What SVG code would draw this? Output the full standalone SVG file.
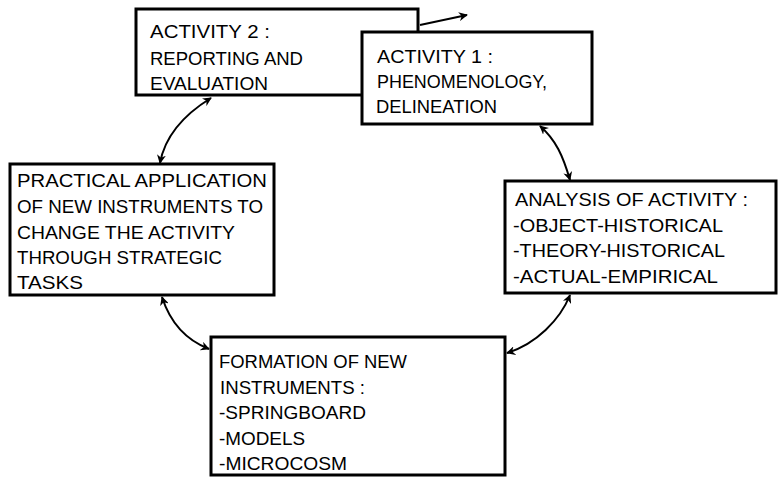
<svg xmlns="http://www.w3.org/2000/svg" width="778" height="477" viewBox="0 0 778 477">
<style>
  .box { fill: #fff; stroke: #000; stroke-width: 3; }
  .t { font-family: "Liberation Sans", "DejaVu Sans", sans-serif; font-size: 18px; fill: #000; }
  .c { fill: none; stroke: #000; stroke-width: 2; }
</style>
<defs>
  <marker id="ah" viewBox="0 0 10 10" refX="9" refY="5" markerWidth="9" markerHeight="9" markerUnits="userSpaceOnUse" orient="auto-start-reverse">
    <path d="M0,0 L10,5 L0,10 L3,5 Z" fill="#000"/>
  </marker>
</defs>
<rect width="778" height="477" fill="#fff"/>
<g id="activity2">
  <rect class="box" x="136" y="9" width="282" height="86"/>
  <text class="t" x="150" y="38" textLength="120" lengthAdjust="spacingAndGlyphs">ACTIVITY 2 :</text>
  <text class="t" x="150" y="65" textLength="153" lengthAdjust="spacingAndGlyphs">REPORTING AND</text>
  <text class="t" x="150" y="90" textLength="118" lengthAdjust="spacingAndGlyphs">EVALUATION</text>
</g>
<g id="activity1">
  <rect class="box" x="362" y="32" width="230" height="92"/>
  <text class="t" x="377" y="63" textLength="116" lengthAdjust="spacingAndGlyphs">ACTIVITY 1 :</text>
  <text class="t" x="377" y="88" textLength="170" lengthAdjust="spacingAndGlyphs">PHENOMENOLOGY,</text>
  <text class="t" x="376" y="113" textLength="121" lengthAdjust="spacingAndGlyphs">DELINEATION</text>
</g>
<g id="practical">
  <rect class="box" x="10" y="164" width="264" height="131"/>
  <text class="t" x="17" y="187" textLength="250" lengthAdjust="spacingAndGlyphs">PRACTICAL APPLICATION</text>
  <text class="t" x="17" y="213" textLength="246" lengthAdjust="spacingAndGlyphs">OF NEW INSTRUMENTS TO</text>
  <text class="t" x="17" y="239" textLength="218" lengthAdjust="spacingAndGlyphs">CHANGE THE ACTIVITY</text>
  <text class="t" x="17" y="264" textLength="205" lengthAdjust="spacingAndGlyphs">THROUGH STRATEGIC</text>
  <text class="t" x="17" y="289" textLength="66" lengthAdjust="spacingAndGlyphs">TASKS</text>
</g>
<g id="analysis">
  <rect class="box" x="505" y="181" width="271" height="112"/>
  <text class="t" x="515" y="206" textLength="233" lengthAdjust="spacingAndGlyphs">ANALYSIS OF ACTIVITY :</text>
  <text class="t" x="513" y="232" textLength="210" lengthAdjust="spacingAndGlyphs">-OBJECT-HISTORICAL</text>
  <text class="t" x="513" y="257" textLength="212" lengthAdjust="spacingAndGlyphs">-THEORY-HISTORICAL</text>
  <text class="t" x="513" y="283" textLength="205" lengthAdjust="spacingAndGlyphs">-ACTUAL-EMPIRICAL</text>
</g>
<g id="formation">
  <rect class="box" x="211" y="337" width="294" height="138"/>
  <text class="t" x="219" y="368" textLength="188" lengthAdjust="spacingAndGlyphs">FORMATION OF NEW</text>
  <text class="t" x="220" y="394" textLength="145" lengthAdjust="spacingAndGlyphs">INSTRUMENTS :</text>
  <text class="t" x="219" y="419" textLength="147" lengthAdjust="spacingAndGlyphs">-SPRINGBOARD</text>
  <text class="t" x="219" y="445" textLength="86" lengthAdjust="spacingAndGlyphs">-MODELS</text>
  <text class="t" x="219" y="470" textLength="128" lengthAdjust="spacingAndGlyphs">-MICROCOSM</text>
</g>
<g id="connectors">
  <path class="c" d="M211,98 C185,114 165,136 160,163" marker-start="url(#ah)" marker-end="url(#ah)"/>
  <path class="c" d="M162,297 C170,322 186,340 209,349" marker-start="url(#ah)" marker-end="url(#ah)"/>
  <path class="c" d="M507,353 C536,344 560,320 570,295" marker-start="url(#ah)" marker-end="url(#ah)"/>
  <path class="c" d="M540,126 C556,140 563,156 570,180" marker-start="url(#ah)" marker-end="url(#ah)"/>
  <path class="c" d="M420,25 L467,15" marker-end="url(#ah)"/>
</g>
</svg>
